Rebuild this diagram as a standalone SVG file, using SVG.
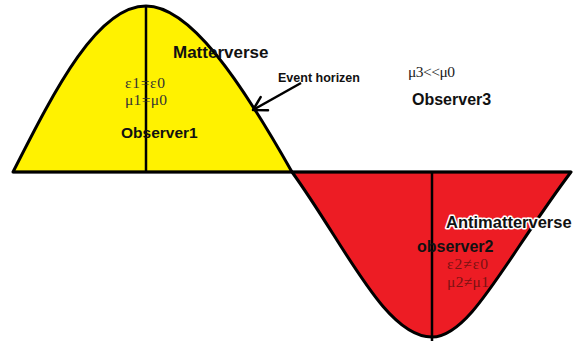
<svg xmlns="http://www.w3.org/2000/svg" width="573" height="341" viewBox="0 0 573 341">
  <style>
    .region { stroke: #000; stroke-width: 3; stroke-linejoin: round; }
    .line { stroke: #000; stroke-width: 2.5; fill: none; }
    .sans { font-family: "Liberation Sans", Arial, sans-serif; font-weight: bold; fill: #111; }
    .serif { font-family: "Liberation Serif", "Times New Roman", serif; font-size: 15.5px; }
  </style>
  <defs>
    <marker id="openArrow" markerUnits="userSpaceOnUse" markerWidth="20" markerHeight="20" viewBox="-16 -10 20 20" refX="0" refY="0" orient="auto">
      <path d="M-13,-7.5 L0,0 L-13,7.5" fill="none" stroke="#000" stroke-width="2.5" stroke-linecap="round" stroke-linejoin="round"/>
    </marker>
  </defs>
  <rect width="573" height="341" fill="#fff"/>

  <g id="matterverse">
    <path class="region" fill="#FFF200" d="M13,172 C56.4,86.4 97.9,6 146,6 C190,6 240,80 292,172 Z"/>
    <path class="line" d="M146,6 V172"/>
    <text class="sans" x="173" y="58" font-size="17">Matterverse</text>
    <text class="serif" x="125" y="88" fill="#333" textLength="40" lengthAdjust="spacing">ε1=ε0</text>
    <text class="serif" x="125" y="105" fill="#333" textLength="42" lengthAdjust="spacing">μ1=μ0</text>
    <text class="sans" x="121" y="138" font-size="15.5">Observer1</text>
  </g>

  <g id="antimatterverse">
    <path class="region" fill="#ED1C24" d="M292,172 C345,245 385,337 432,337 C470,337 505,260 571,172 Z"/>
    <path class="line" d="M432,172 V341"/>
    <text class="sans" x="446" y="228" font-size="16.5" stroke="#fff" stroke-width="3" paint-order="stroke" stroke-linejoin="round">Antimatterverse</text>
    <text class="sans" x="417" y="252" font-size="16" fill="#2a0808">observer2</text>
    <text class="serif" x="447" y="269" fill="#7a1212" textLength="41" lengthAdjust="spacing">ε2≠ε0</text>
    <text class="serif" x="447" y="287" fill="#7a1212" textLength="42" lengthAdjust="spacing">μ2≠μ1</text>
  </g>

  <g id="axis">
    <path class="line" stroke-width="3" d="M13,172 H571"/>
  </g>

  <g id="observer3">
    <text class="serif" x="408" y="77" fill="#222" textLength="47" lengthAdjust="spacing">μ3&lt;&lt;μ0</text>
    <text class="sans" x="412" y="105" font-size="16">Observer3</text>
  </g>

  <g id="event-horizon-label">
    <text class="sans" x="278" y="82" font-size="12.5">Event horizen</text>
  </g>

  <g id="connectors">
    <path class="line" d="M301,83 L253,110" marker-end="url(#openArrow)"/>
  </g>
</svg>
